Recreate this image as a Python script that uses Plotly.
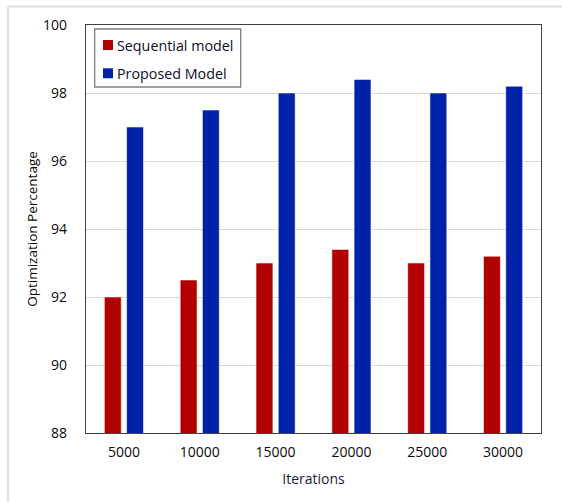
import plotly.graph_objects as go

# Iteration counts and optimization percentages for both models
iterations = ["5000", "10000", "15000", "20000", "25000", "30000"]
sequential_model = [92.0, 92.5, 93.0, 93.4, 93.0, 93.2]
proposed_model = [97.0, 97.5, 98.0, 98.4, 98.0, 98.2]
y_ticks = [88, 90, 92, 94, 96, 98, 100]
series_names = ["Sequential model", "Proposed Model"]
series_colors = ["#B00000", "#0022A8"]

FONT = "Open Sans"
W, H = 562, 502
ML, MR, MT, MB = 86, 21, 25, 69
PW, PH = W - ML - MR, H - MT - MB


def px_x(x):
    return (x - ML) / PW


def px_y(y):
    return 1 - (y - MT) / PH


fig = go.Figure()
for name, vals, col in zip(series_names, [sequential_model, proposed_model], series_colors):
    fig.add_trace(go.Bar(
        x=iterations, y=vals, name=name,
        marker=dict(color=col, line=dict(color="rgba(255,255,255,0.55)", width=1)),
    ))

# light outer frame (top and left edges)
fig.add_shape(type="line", xref="paper", yref="paper",
              x0=px_x(8), x1=px_x(W + 5), y0=px_y(6.5), y1=px_y(6.5),
              line=dict(color="#E4E4E4", width=2.5))
fig.add_shape(type="line", xref="paper", yref="paper",
              x0=px_x(8), x1=px_x(8), y0=px_y(6.5), y1=px_y(H + 5),
              line=dict(color="#E4E4E4", width=2.5))

# legend box with colour keys
fig.add_shape(type="rect", xref="paper", yref="paper",
              x0=px_x(94.7), x1=px_x(240.7), y0=px_y(29), y1=px_y(87),
              line=dict(color="#7F7F7F", width=1.3), fillcolor="white")
for i, (name, col) in enumerate(zip(series_names, series_colors)):
    cy = 45 + i * 28.3
    fig.add_shape(type="rect", xref="paper", yref="paper",
                  x0=px_x(103), x1=px_x(113), y0=px_y(cy - 5), y1=px_y(cy + 5),
                  line=dict(width=0), fillcolor=col)
    fig.add_annotation(xref="paper", yref="paper", x=px_x(115), y=px_y(cy),
                       xanchor="left", yanchor="middle", showarrow=False,
                       text=name, font=dict(family=FONT, size=14.3, color="#0d0d2b"))

fig.update_layout(
    width=W, height=H,
    margin=dict(l=ML, r=MR, t=MT, b=MB, autoexpand=False),
    paper_bgcolor="white", plot_bgcolor="white",
    barmode="group", bargap=0.414, bargroupgap=0.24,
    font=dict(family=FONT, color="#111111"),
    showlegend=False,
    xaxis=dict(
        showline=True, mirror=True, linecolor="#404040", linewidth=1.3,
        ticks="", tickfont=dict(size=14, color="#0a0a0a"),
        ticklabelstandoff=6,
        title=dict(text="Iterations", font=dict(size=14, color="#1a1a33"), standoff=14),
    ),
    yaxis=dict(
        range=[88, 100], tickvals=y_ticks,
        showline=True, mirror=True, linecolor="#404040", linewidth=1.3,
        showgrid=True, gridcolor="#D9D9D9", gridwidth=1,
        ticks="", tickfont=dict(size=14, color="#0a0a0a"),
        ticklabelstandoff=15,
        title=dict(text="Optimization Percentage", font=dict(size=13.5, color="#0a0a0a"), standoff=2),
        zeroline=False,
    ),
)

fig.write_html("out.html")
